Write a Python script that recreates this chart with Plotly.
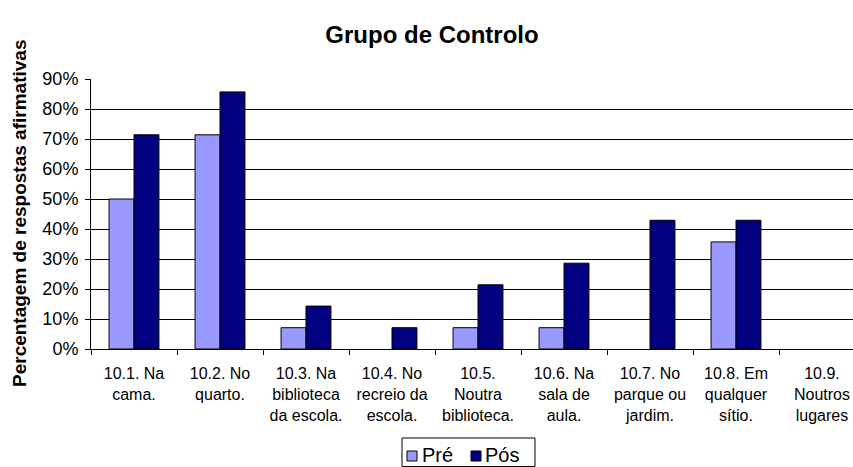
import plotly.graph_objects as go

categories = [
    "10.1. Na<br>cama.",
    "10.2. No<br>quarto.",
    "10.3. Na<br>biblioteca<br>da escola.",
    "10.4. No<br>recreio da<br>escola.",
    "10.5.<br>Noutra<br>biblioteca.",
    "10.6. Na<br>sala de<br>aula.",
    "10.7. No<br>parque ou<br>jardim.",
    "10.8. Em<br>qualquer<br>sítio.",
    "10.9.<br>Noutros<br>lugares",
]
pre = [0.500, 0.714, 0.071, 0.0, 0.071, 0.071, 0.0, 0.357, 0.0]
pos = [0.714, 0.857, 0.143, 0.071, 0.214, 0.286, 0.429, 0.429, 0.0]
y_ticks = [0, 0.1, 0.2, 0.3, 0.4, 0.5, 0.6, 0.7, 0.8, 0.9]
series = [("Pré", pre, "#9999FF"), ("Pós", pos, "#000080")]

W, H = 853, 467
ML, MR, MT, MB = 91, 0, 79, 118
PW, PH = W - ML - MR, H - MT - MB
font = "Liberation Sans, Arial, sans-serif"


def px_x(x):
    """Pixel x -> paper x."""
    return (x - ML) / PW


def px_y(y):
    """Pixel y (from top) -> paper y."""
    return (H - MB - y) / PH


fig = go.Figure()
for name, vals, color in series:
    fig.add_trace(go.Bar(
        name=name, x=categories, y=vals,
        marker=dict(
            color=color,
            # empty bars get no outline
            line=dict(color="black", width=[1 if v > 0 else 0 for v in vals]),
        ),
        showlegend=False,
    ))

fig.update_layout(
    width=W, height=H,
    margin=dict(l=ML, r=MR, t=MT, b=MB),
    paper_bgcolor="white", plot_bgcolor="white",
    barmode="group", bargap=0.42, bargroupgap=0,
    font=dict(family=font, color="black"),
    title=dict(
        text="<b>Grupo de Controlo</b>",
        font=dict(size=24, family=font, color="black"),
        x=432 / W, xanchor="center", y=1 - 35 / H, yanchor="middle",
    ),
    xaxis=dict(
        type="category",
        range=[-0.5, 8.5 - (865 - 853) / 86],
        showline=True, linecolor="black", linewidth=1,
        ticks="outside", tickson="boundaries", ticklen=5, tickcolor="black",
        tickfont=dict(size=16, family=font),
        ticklabelstandoff=10,
        showgrid=False,
    ),
    yaxis=dict(
        range=[0, 0.9],
        tickvals=y_ticks, tickformat=".0%",
        showline=True, linecolor="black", linewidth=1,
        ticks="outside", ticklen=5, tickcolor="black",
        tickfont=dict(size=18, family=font),
        ticklabelstandoff=3,
        showgrid=True, gridcolor="black", gridwidth=1,
        zeroline=False,
    ),
)

fig.add_annotation(
    text="<b>Percentagem de respostas afirmativas</b>",
    textangle=-90, xref="paper", yref="paper",
    x=px_x(19), xanchor="center",
    y=0.5, yanchor="middle", showarrow=False,
    font=dict(size=19, family=font, color="black"),
)

# Legend: bordered box with a swatch and label per series
fig.add_shape(
    type="rect", xref="paper", yref="paper",
    x0=px_x(402), x1=px_x(535), y0=px_y(438), y1=px_y(466.5),
    line=dict(color="black", width=1), fillcolor="white",
)
legend_pos = [(407, 420), (471, 483)]
for (name, _, color), (sx, tx) in zip(series, legend_pos):
    fig.add_shape(
        type="rect", xref="paper", yref="paper",
        x0=px_x(sx), x1=px_x(sx + 10), y0=px_y(451), y1=px_y(461),
        line=dict(color="black", width=1), fillcolor=color,
    )
    fig.add_annotation(
        text=name, xref="paper", yref="paper",
        x=px_x(tx), xanchor="left", y=px_y(455), yanchor="middle",
        showarrow=False, font=dict(size=20, family=font, color="black"),
    )

fig.write_html("out.html")
